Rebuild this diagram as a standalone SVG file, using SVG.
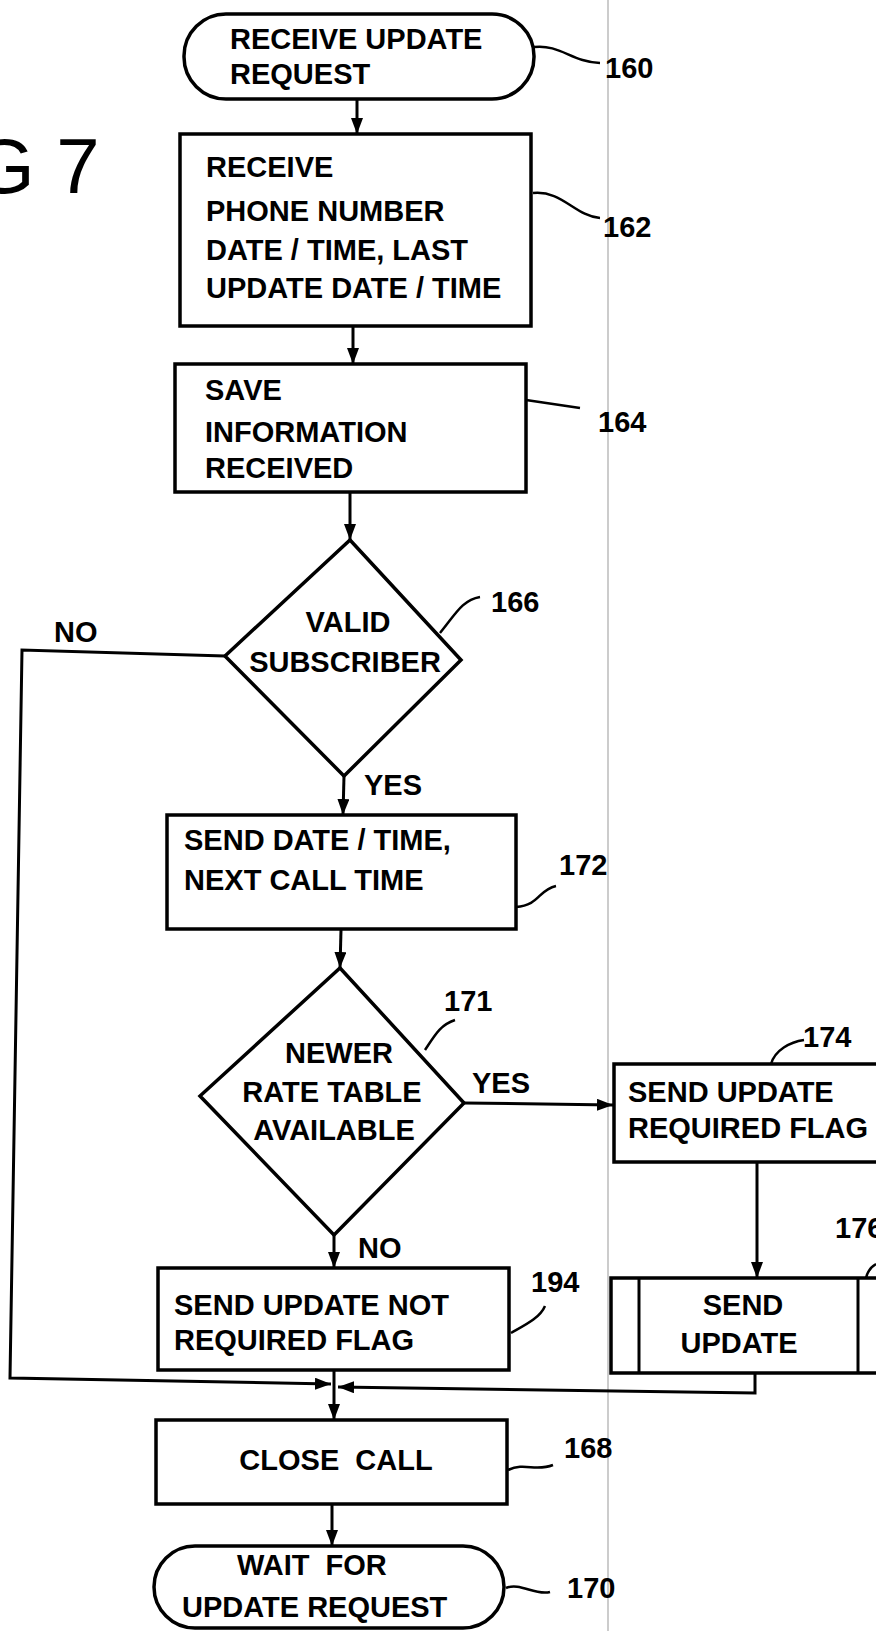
<svg xmlns="http://www.w3.org/2000/svg" width="876" height="1631" viewBox="0 0 876 1631">
<defs>
<marker id="ah" markerWidth="16" markerHeight="12" refX="16" refY="6" orient="auto" markerUnits="userSpaceOnUse">
<path d="M0,0 L16,6 L0,12 Z" fill="#000"/>
</marker>
</defs>
<style>
.t{font-family:"Liberation Sans",Arial,sans-serif;font-weight:bold;font-size:29px;fill:#000}
.m{text-anchor:middle}
.s{fill:#fff;stroke:#000;stroke-width:3.5}
.c{fill:none;stroke:#000;stroke-width:3}
.ld{fill:none;stroke:#000;stroke-width:2.5}
</style>
<rect width="876" height="1631" fill="#fff"/>
<line x1="608" y1="0" x2="608" y2="1631" stroke="#999" stroke-width="1"/>
<text x="-26" y="193" style="font-family:'Liberation Sans',Arial,sans-serif;font-size:78px;fill:#000">G 7</text>

<g id="connectors">
<path class="c" d="M357,99 L357,134" marker-end="url(#ah)"/>
<path class="c" d="M353,327 L353,364" marker-end="url(#ah)"/>
<path class="c" d="M350,492 L350,540" marker-end="url(#ah)"/>
<path class="c" d="M344,776 L343,815" marker-end="url(#ah)"/>
<path class="c" d="M341,930 L340,968" marker-end="url(#ah)"/>
<path class="c" d="M464,1103 L613,1105" marker-end="url(#ah)"/>
<path class="c" d="M334,1235 L334,1268" marker-end="url(#ah)"/>
<path class="c" d="M225,656 L22,650 L10,1378 L331,1384" marker-end="url(#ah)"/>
<path class="c" d="M757,1162 L757,1278" marker-end="url(#ah)"/>
<path class="c" d="M755,1373 L755,1393 L338,1387" marker-end="url(#ah)"/>
<path class="c" d="M334,1371 L334,1420" marker-end="url(#ah)"/>
<path class="c" d="M332,1505 L332,1546" marker-end="url(#ah)"/>
</g>

<g id="n160">
<rect class="s" x="184" y="14" width="350" height="85" rx="42" ry="42"/>
<text class="t" x="230" y="49">RECEIVE UPDATE</text>
<text class="t" x="230" y="84">REQUEST</text>
<path class="ld" d="M534,47 C560,44 572,62 600,63"/>
<text class="t" x="605" y="78">160</text>
</g>

<g id="n162">
<rect class="s" x="180" y="134" width="351" height="192"/>
<text class="t" x="206" y="177">RECEIVE</text>
<text class="t" x="206" y="221">PHONE NUMBER</text>
<text class="t" x="206" y="260">DATE / TIME, LAST</text>
<text class="t" x="206" y="298">UPDATE DATE / TIME</text>
<path class="ld" d="M533,193 C562,190 575,216 600,218"/>
<text class="t" x="603" y="237">162</text>
</g>

<g id="n164">
<rect class="s" x="175" y="364" width="351" height="128"/>
<text class="t" x="205" y="400">SAVE</text>
<text class="t" x="205" y="442">INFORMATION</text>
<text class="t" x="205" y="478">RECEIVED</text>
<path class="ld" d="M526,400 L580,408"/>
<text class="t" x="598" y="432">164</text>
</g>

<g id="n166">
<polygon class="s" points="350,540 461,660 344,776 225,656"/>
<text class="t m" x="348" y="632">VALID</text>
<text class="t m" x="345" y="672">SUBSCRIBER</text>
<path class="ld" d="M440,633 C455,615 462,600 480,597"/>
<text class="t" x="491" y="612">166</text>
<text class="t" x="54" y="642">NO</text>
<text class="t" x="364" y="795">YES</text>
</g>

<g id="n172">
<rect class="s" x="167" y="815" width="349" height="114"/>
<text class="t" x="184" y="850">SEND DATE / TIME,</text>
<text class="t" x="184" y="890">NEXT CALL TIME</text>
<path class="ld" d="M516,907 C540,905 538,890 556,886"/>
<text class="t" x="559" y="875">172</text>
</g>

<g id="n171">
<polygon class="s" points="340,968 464,1103 334,1235 200,1096"/>
<text class="t m" x="339" y="1063">NEWER</text>
<text class="t m" x="332" y="1102">RATE TABLE</text>
<text class="t m" x="334" y="1140">AVAILABLE</text>
<path class="ld" d="M425,1050 C435,1035 440,1025 455,1020"/>
<text class="t" x="444" y="1011">171</text>
<text class="t" x="472" y="1093">YES</text>
<text class="t" x="358" y="1258">NO</text>
</g>

<g id="n174">
<rect class="s" x="614" y="1064" width="290" height="98"/>
<text class="t" x="628" y="1102">SEND UPDATE</text>
<text class="t" x="628" y="1138">REQUIRED FLAG</text>
<path class="ld" d="M771,1064 C775,1050 790,1042 804,1040"/>
<text class="t" x="803" y="1047">174</text>
</g>

<g id="n176">
<rect class="s" x="611" y="1278" width="290" height="95"/>
<line class="c" x1="639" y1="1278" x2="639" y2="1373"/>
<line class="c" x1="858" y1="1278" x2="858" y2="1373"/>
<text class="t m" x="743" y="1315">SEND</text>
<text class="t m" x="739" y="1353">UPDATE</text>
<path class="ld" d="M866,1278 C868,1270 872,1266 876,1264"/>
<text class="t" x="835" y="1238">176</text>
</g>

<g id="n194">
<rect class="s" x="158" y="1268" width="351" height="102"/>
<text class="t" x="174" y="1315">SEND UPDATE NOT</text>
<text class="t" x="174" y="1350">REQUIRED FLAG</text>
<path class="ld" d="M511,1333 C525,1325 540,1318 545,1306"/>
<text class="t" x="531" y="1292">194</text>
</g>

<g id="n168">
<rect class="s" x="156" y="1420" width="351" height="84"/>
<text class="t m" x="336" y="1470" xml:space="preserve">CLOSE  CALL</text>
<path class="ld" d="M508,1470 C525,1462 535,1472 553,1465"/>
<text class="t" x="564" y="1458">168</text>
</g>

<g id="n170">
<rect class="s" x="154" y="1546" width="350" height="82" rx="41" ry="41"/>
<text class="t" x="237" y="1575" xml:space="preserve">WAIT  FOR</text>
<text class="t" x="182" y="1617">UPDATE REQUEST</text>
<path class="ld" d="M506,1588 C520,1582 535,1596 550,1592"/>
<text class="t" x="567" y="1598">170</text>
</g>
</svg>
